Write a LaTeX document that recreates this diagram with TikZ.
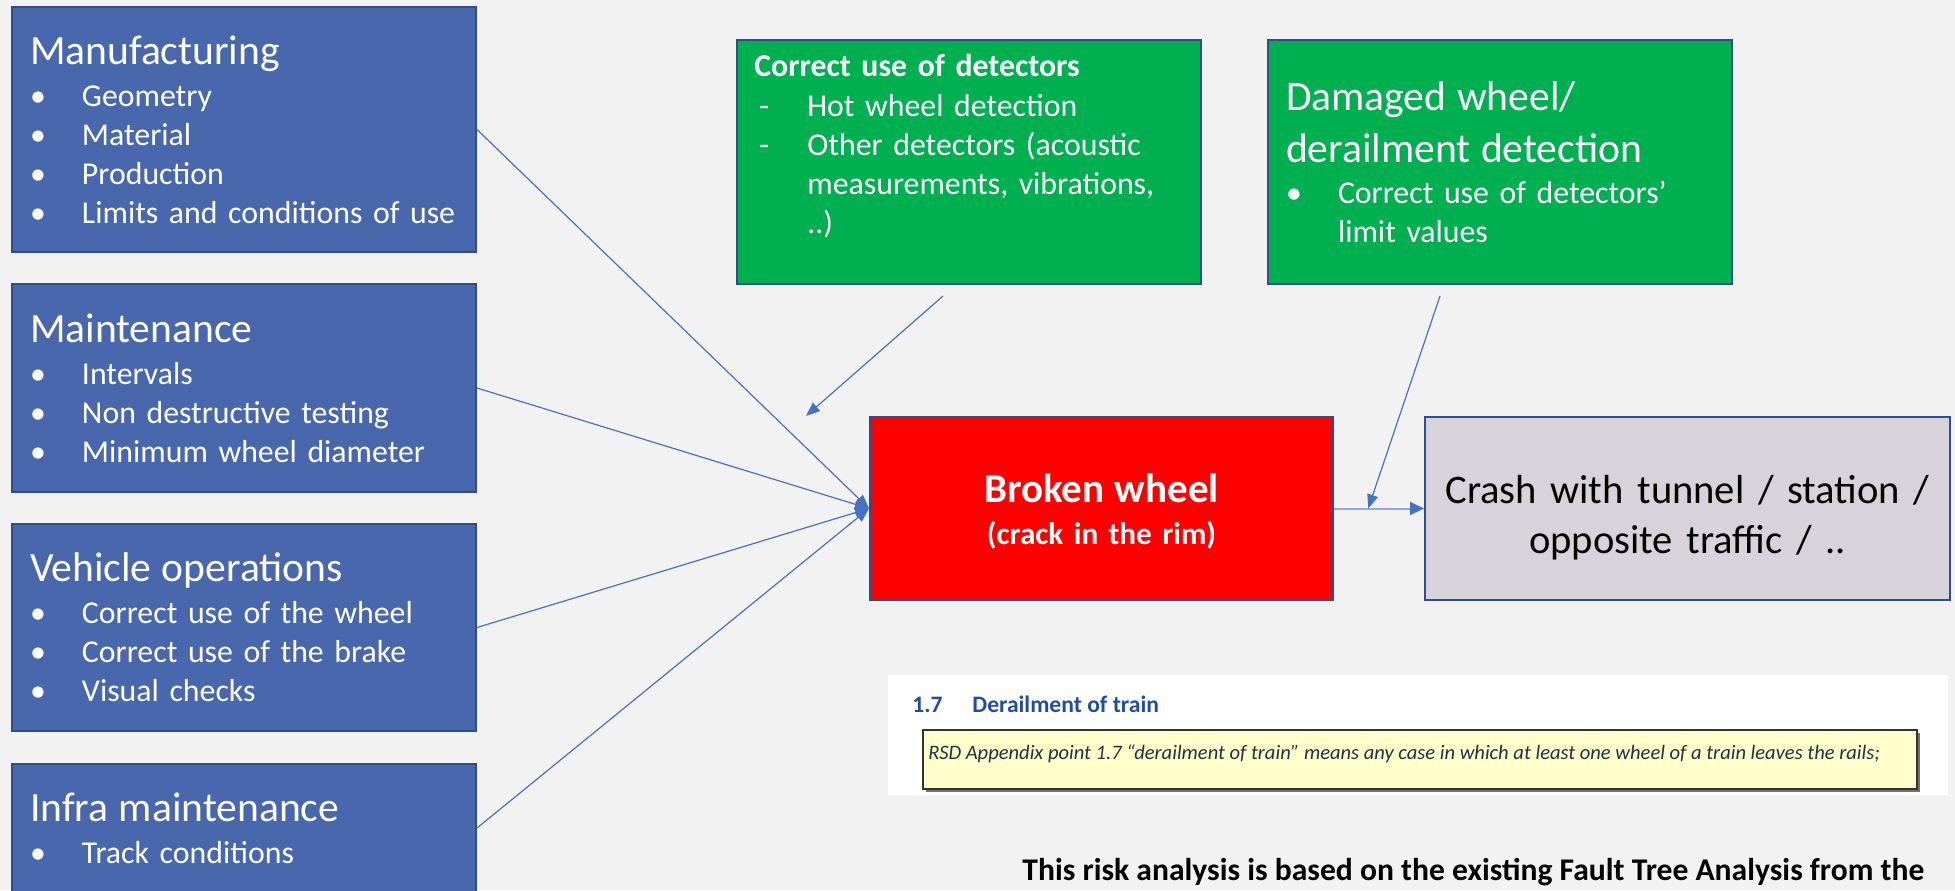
\documentclass[tikz,border=0pt]{standalone}
\usepackage{fontspec}
\setmainfont{Carlito}
\definecolor{bggrey}{RGB}{242,242,242}
\definecolor{causeblue}{RGB}{73,103,172}
\definecolor{causeedge}{RGB}{47,79,140}
\definecolor{detgreen}{RGB}{0,176,80}
\definecolor{hazardred}{RGB}{255,0,0}
\definecolor{outgrey}{RGB}{216,211,218}
\definecolor{linkblue}{RGB}{68,114,196}
\definecolor{linklight}{RGB}{143,170,220}
\definecolor{sechead}{RGB}{31,78,158}
\definecolor{defyellow}{RGB}{255,255,204}
\definecolor{deftext}{RGB}{30,50,70}
\usetikzlibrary{arrows.meta,positioning,calc,shadows}

\newcommand\boxhead[1]{{\fontsize{20.8}{19.5}\selectfont #1}\\[1.5pt]}
\newcommand\bitem[1]{\makebox[26pt][l]{\textbullet}\mbox{#1}}
\newcommand\ditem[1]{\makebox[26.5pt][l]{\hspace{2.5pt}-}\mbox{#1}}

\begin{document}
\begin{tikzpicture}[x=0.5pt, y=-0.5pt,
    cause/.style={rectangle, draw=causeedge, line width=1pt, fill=causeblue, text=white,
      minimum width=232pt, text width=214pt, inner xsep=9pt, align=left,
      font=\fontsize{15.9}{19.5}\selectfont},
    detect/.style={rectangle, draw=causeedge, line width=1pt, fill=detgreen, text=white,
      minimum width=232pt, minimum height=122pt, text width=214pt, inner xsep=9pt, align=left,
      font=\fontsize{15.9}{19.5}\selectfont},
    hazard/.style={rectangle, draw=causeedge, line width=1pt, fill=hazardred, text=white,
      minimum width=231.5pt, minimum height=91.5pt, text width=220pt, align=center,
      font=\bfseries\fontsize{15.6}{21}\selectfont},
    outcome/.style={rectangle, draw=causeedge, line width=1pt, fill=outgrey, text=black,
      minimum width=262.5pt, minimum height=91.5pt, text width=255pt, align=center,
      font=\fontsize{20.3}{25}\selectfont},
    link/.style={-{Triangle[length=7pt, width=5.5pt]}, line width=0.6pt, linkblue},
    mainlink/.style={-{Triangle[length=7pt, width=6.5pt, color=linkblue]}, line width=1pt, linklight}
  ]
    \useasboundingbox (0,0) rectangle (1955,890);
    \fill[bggrey] (0,0) rectangle (1955,890);

    % Causes on the left
    \node[cause, minimum height=122.5pt] (manu) at (244,129.5) {\boxhead{Manufacturing}
      \bitem{Geometry}\\ \bitem{Material}\\ \bitem{Production}\\ \bitem{Limits and conditions of use}};
    \node[cause, minimum height=104pt] (maint) at (244,388) {\boxhead{Maintenance}
      \bitem{Intervals}\\ \bitem{Non destructive testing}\\ \bitem{Minimum wheel diameter}};
    \node[cause, minimum height=103.5pt] (vehic) at (244,627.5) {\boxhead{Vehicle operations}
      \bitem{Correct use of the wheel}\\ \bitem{Correct use of the brake}\\ \bitem{Visual checks}};
    \node[cause, minimum height=64pt] (infra) at (244,828) {\boxhead{Infra maintenance}
      \bitem{Track conditions}};

    % Detection barriers
    \node[detect] (det1) at (969,162) {};
    \node[text=white, text width=214pt, inner sep=0, align=left, anchor=north west,
      font=\fontsize{15.9}{19.5}\selectfont] (det1txt) at (754,54)
      {\textbf{Correct use of detectors}\\[0.5pt]
       \ditem{Hot wheel detection}\\ \ditem{Other detectors (acoustic}\\
       \hspace*{26.5pt}measurements, vibrations,\\ \hspace*{26.5pt}..)};
    \node[detect] (det2) at (1500,162)
      {{\fontsize{20.8}{19.5}\selectfont Damaged wheel/\\[6.5pt] derailment detection}\\[1pt]
       \bitem{Correct use of detectors’}\\ \hspace*{26pt}limit values};

    % Top event and consequence
    \node[hazard] (broken) at (1101.5,508.5) {{\fontsize{20.5}{21}\selectfont\rule{0pt}{17pt}Broken wheel}\\ (crack in the rim)};
    \node[outcome] (crash) at (1687.5,508.5) {\rule{0pt}{23pt}Crash with tunnel / station /\\ opposite traffic / ..};

    \draw[link] (manu.east) -- (broken.west);
    \draw[link] (maint.east) -- (broken.west);
    \draw[link] (vehic.east) -- (broken.west);
    \draw[link] (infra.east) -- (broken.west);

    \coordinate (d1foot) at (943,296);
    \coordinate (d1tip) at (806,416);
    \draw[link] (d1foot) -- (d1tip);

    \coordinate (d2foot) at (1440,296);
    \coordinate (hit) at ($(broken.east)!0.38!(crash.west)$);
    \draw[mainlink] (broken.east) -- (crash.west);
    \draw[link] (d2foot) -- (hit);

    % Definition excerpt
    \node[fill=white, minimum width=530pt, minimum height=60pt, inner sep=0] (rsd) at (1418,735) {};
    \node[anchor=base west, inner sep=0, text=sechead, font=\bfseries\fontsize{11.8}{14}\selectfont] (secno) at (912,712) {1.7};
    \node[anchor=base west, inner sep=0, text=sechead, font=\bfseries\fontsize{11.8}{14}\selectfont] (sectitle) at (972,712) {Derailment of train};
    \node[fill=defyellow, draw=black!80, line width=1pt, minimum width=497pt, minimum height=29.5pt, inner sep=0,
      drop shadow={shadow xshift=1.5pt, shadow yshift=-1.5pt, fill=black!55, opacity=1}] (defn) at (1420,759.5) {};
    \node[anchor=base west, inner sep=0, text=deftext, font=\itshape\fontsize{10.27}{12}\selectfont] (defntxt) at (928,759)
      {RSD Appendix point 1.7 “derailment of train” means any case in which at least one wheel of a train leaves the rails;};

    % Note at the bottom
    \node[anchor=base west, inner sep=0, font=\bfseries\fontsize{15.8}{18}\selectfont] (note) at (1022,880)
      {This risk analysis is based on the existing Fault Tree Analysis from the};
\end{tikzpicture}
\end{document}
